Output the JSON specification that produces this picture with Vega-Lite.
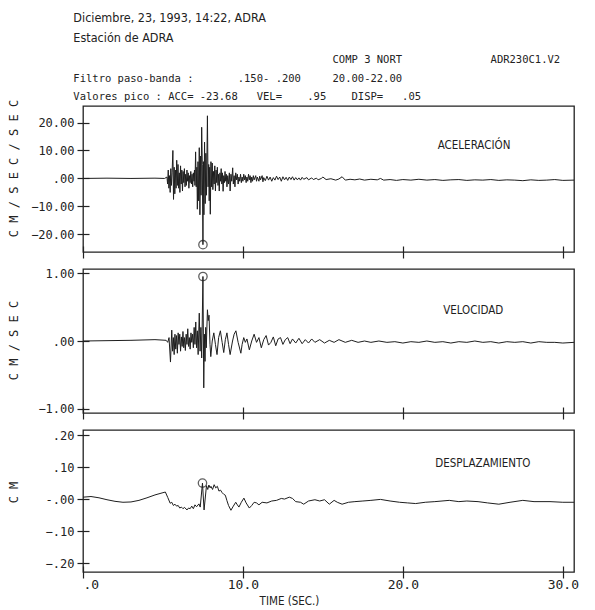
{
  "$schema": "https://vega.github.io/schema/vega-lite/v6.json",
  "background": "white",
  "padding": {"left": 6, "top": 11, "right": 5, "bottom": 0},
  "spacing": 17,
  "bounds": "flush",
  "config": {
    "view": {"stroke": "#222222", "strokeWidth": 1.3},
    "axis": {"grid": false, "domain": false, "tickColor": "#222222", "tickWidth": 1.2, "labelColor": "#222222", "titleColor": "#222222", "labelFont": "DejaVu Sans Mono", "titleFont": "DejaVu Sans Mono", "titleFontWeight": "normal", "labelOverlap": false, "labelFlush": false, "tickCount": 12}
  },
  "title": {
    "text": ["Diciembre, 23, 1993, 14:22, ADRA", "Estación de ADRA"],
    "subtitle": [
      "\u200b\u00a0\u00a0\u00a0\u00a0\u00a0\u00a0\u00a0\u00a0\u00a0\u00a0\u00a0\u00a0\u00a0\u00a0\u00a0\u00a0\u00a0\u00a0\u00a0\u00a0\u00a0\u00a0\u00a0\u00a0\u00a0\u00a0\u00a0\u00a0\u00a0\u00a0\u00a0\u00a0\u00a0\u00a0\u00a0\u00a0\u00a0\u00a0\u00a0\u00a0\u00a0COMP\u00a03\u00a0NORT\u00a0\u00a0\u00a0\u00a0\u00a0\u00a0\u00a0\u00a0\u00a0\u00a0\u00a0\u00a0\u00a0\u00a0ADR230C1.V2",
      "Filtro\u00a0paso-banda\u00a0:\u00a0\u00a0\u00a0\u00a0\u00a0\u00a0\u00a0.150-\u00a0.200\u00a0\u00a0\u00a0\u00a0\u00a020.00-22.00",
      "Valores\u00a0pico\u00a0:\u00a0ACC=\u00a0-23.68\u00a0\u00a0\u00a0VEL=\u00a0\u00a0\u00a0\u00a0.95\u00a0\u00a0\u00a0\u00a0DISP=\u00a0\u00a0\u00a0.05"
    ],
    "anchor": "start",
    "frame": "bounds",
    "dx": 67,
    "offset": -4,
    "font": "DejaVu Sans Condensed, DejaVu Sans, sans-serif",
    "fontSize": 12.5,
    "fontWeight": "normal",
    "lineHeight": 20,
    "color": "#222222",
    "subtitleFont": "DejaVu Sans Mono",
    "subtitleFontSize": 10.5,
    "subtitleLineHeight": 18.5,
    "subtitleColor": "#222222",
    "subtitlePadding": 11
  },
  "datasets": {
    "acc": [
      {"t": 0, "v": 0}, {"t": 1.5, "v": 0.1}, {"t": 3.0, "v": 0}, {"t": 4.5, "v": 0.1}, {"t": 5.1, "v": 0},
      {"t": 5.25, "v": 0.5}, {"t": 5.29, "v": -2.0}, {"t": 5.33, "v": 3.0}, {"t": 5.37, "v": -3.5}, {"t": 5.41, "v": 1.0},
      {"t": 5.45, "v": -5.0}, {"t": 5.49, "v": 3.5}, {"t": 5.53, "v": -2.5}, {"t": 5.57, "v": 2.0}, {"t": 5.62, "v": 10.0},
      {"t": 5.66, "v": -7.5}, {"t": 5.70, "v": 4.0}, {"t": 5.74, "v": -5.5}, {"t": 5.78, "v": 3.0}, {"t": 5.82, "v": -3.5},
      {"t": 5.86, "v": 6.5}, {"t": 5.90, "v": -2.5}, {"t": 5.94, "v": 5.0}, {"t": 5.98, "v": -3.5}, {"t": 6.02, "v": 2.0},
      {"t": 6.06, "v": -5.0}, {"t": 6.10, "v": 4.5}, {"t": 6.14, "v": -2.0}, {"t": 6.18, "v": 3.0}, {"t": 6.22, "v": -4.5},
      {"t": 6.26, "v": 2.5}, {"t": 6.30, "v": -1.5}, {"t": 6.34, "v": 3.5}, {"t": 6.38, "v": -3.0}, {"t": 6.42, "v": 1.5},
      {"t": 6.46, "v": -2.5}, {"t": 6.50, "v": 3.0}, {"t": 6.54, "v": -1.0}, {"t": 6.58, "v": 2.0}, {"t": 6.62, "v": -3.5},
      {"t": 6.66, "v": 1.0}, {"t": 6.70, "v": -1.5}, {"t": 6.74, "v": 2.5}, {"t": 6.78, "v": -2.0}, {"t": 6.82, "v": 1.5},
      {"t": 6.86, "v": -3.0}, {"t": 6.90, "v": 2.0}, {"t": 6.94, "v": -1.0}, {"t": 6.97, "v": 3.0}, {"t": 7.00, "v": -2.5},
      {"t": 7.04, "v": 9.5}, {"t": 7.08, "v": -3.0}, {"t": 7.12, "v": 4.0}, {"t": 7.15, "v": -11.0}, {"t": 7.19, "v": 6.0},
      {"t": 7.23, "v": -8.0}, {"t": 7.27, "v": 11.0}, {"t": 7.31, "v": -13.0}, {"t": 7.35, "v": 8.0}, {"t": 7.38, "v": -6.0},
      {"t": 7.42, "v": 18.3}, {"t": 7.46, "v": 5.0}, {"t": 7.50, "v": -23.68}, {"t": 7.53, "v": 6.0}, {"t": 7.56, "v": -13.0},
      {"t": 7.60, "v": 13.0}, {"t": 7.64, "v": -9.0}, {"t": 7.68, "v": 9.0}, {"t": 7.72, "v": -6.0}, {"t": 7.78, "v": 22.4},
      {"t": 7.82, "v": -3.0}, {"t": 7.86, "v": 5.0}, {"t": 7.89, "v": -8.0}, {"t": 7.92, "v": 4.0}, {"t": 7.96, "v": -12.8},
      {"t": 8.00, "v": 6.0}, {"t": 8.04, "v": -3.0}, {"t": 8.08, "v": 5.5}, {"t": 8.12, "v": -4.0}, {"t": 8.16, "v": 2.5},
      {"t": 8.20, "v": -2.0}, {"t": 8.24, "v": 4.5}, {"t": 8.28, "v": -4.5}, {"t": 8.32, "v": 3.0}, {"t": 8.36, "v": -1.5},
      {"t": 8.40, "v": 4.0}, {"t": 8.44, "v": -2.5}, {"t": 8.48, "v": 1.5}, {"t": 8.52, "v": -4.5}, {"t": 8.56, "v": 2.0},
      {"t": 8.60, "v": -1.0}, {"t": 8.64, "v": 3.5}, {"t": 8.68, "v": -2.0}, {"t": 8.72, "v": 2.0}, {"t": 8.76, "v": -4.6},
      {"t": 8.80, "v": 1.0}, {"t": 8.84, "v": -1.5}, {"t": 8.88, "v": 2.5}, {"t": 8.92, "v": -1.0}, {"t": 8.96, "v": 1.5},
      {"t": 9.00, "v": -3.0}, {"t": 9.05, "v": 1.0}, {"t": 9.10, "v": -2.0}, {"t": 9.15, "v": 2.0}, {"t": 9.20, "v": -4.5},
      {"t": 9.25, "v": 1.5}, {"t": 9.30, "v": -1.0}, {"t": 9.36, "v": 3.8}, {"t": 9.40, "v": -2.0}, {"t": 9.45, "v": 1.0},
      {"t": 9.50, "v": -3.0}, {"t": 9.55, "v": 2.0}, {"t": 9.60, "v": -0.5}, {"t": 9.65, "v": 1.5}, {"t": 9.70, "v": -2.0},
      {"t": 9.75, "v": 0.5}, {"t": 9.80, "v": -1.0}, {"t": 9.85, "v": 1.5}, {"t": 9.90, "v": -1.5}, {"t": 9.95, "v": 0.5},
      {"t": 10.00, "v": -1.0}, {"t": 10.05, "v": 1.5}, {"t": 10.10, "v": -0.5}, {"t": 10.15, "v": 1.0}, {"t": 10.20, "v": -1.5},
      {"t": 10.25, "v": 0.5}, {"t": 10.30, "v": -1.0}, {"t": 10.35, "v": 1.5}, {"t": 10.40, "v": -0.5}, {"t": 10.45, "v": 1.0},
      {"t": 10.50, "v": -1.5}, {"t": 10.55, "v": 0.5}, {"t": 10.60, "v": -1.0}, {"t": 10.65, "v": 1.0}, {"t": 10.70, "v": -0.5},
      {"t": 10.80, "v": 1.0}, {"t": 10.85, "v": -1.0}, {"t": 10.90, "v": 0.5}, {"t": 11.00, "v": -1.0}, {"t": 11.05, "v": 0.8},
      {"t": 11.10, "v": -0.5}, {"t": 11.20, "v": 1.0}, {"t": 11.25, "v": -1.2}, {"t": 11.30, "v": 0.3}, {"t": 11.40, "v": -0.8},
      {"t": 11.50, "v": 0.8}, {"t": 11.60, "v": -0.6}, {"t": 11.70, "v": 0.5}, {"t": 11.80, "v": -1.0}, {"t": 11.90, "v": 0.3},
      {"t": 12.00, "v": -0.6}, {"t": 12.10, "v": 0.8}, {"t": 12.20, "v": -0.4}, {"t": 12.30, "v": 0.5}, {"t": 12.40, "v": -1.0},
      {"t": 12.50, "v": 0.6}, {"t": 12.60, "v": -0.5}, {"t": 12.70, "v": 0.4}, {"t": 12.80, "v": -0.7}, {"t": 12.90, "v": 0.5},
      {"t": 13.00, "v": -0.4}, {"t": 13.10, "v": 0.6}, {"t": 13.20, "v": -0.6}, {"t": 13.30, "v": 0.3}, {"t": 13.40, "v": -0.5},
      {"t": 13.50, "v": 0.2}, {"t": 13.60, "v": -0.6}, {"t": 13.70, "v": 0.4}, {"t": 13.80, "v": -0.3}, {"t": 14.00, "v": 0.3},
      {"t": 14.10, "v": -0.5}, {"t": 14.30, "v": 0.2}, {"t": 14.40, "v": -0.4}, {"t": 14.60, "v": 0.1}, {"t": 14.70, "v": -0.5},
      {"t": 14.90, "v": 0.0}, {"t": 15.00, "v": 0.5}, {"t": 15.20, "v": -0.4}, {"t": 15.50, "v": -0.1}, {"t": 15.80, "v": -0.6},
      {"t": 16.00, "v": -0.2}, {"t": 16.20, "v": 0.6}, {"t": 16.40, "v": -0.6}, {"t": 16.70, "v": -0.3}, {"t": 17.00, "v": -0.5},
      {"t": 17.30, "v": -0.2}, {"t": 17.60, "v": -0.6}, {"t": 18.00, "v": -0.3}, {"t": 18.40, "v": -0.5}, {"t": 18.60, "v": 0.0},
      {"t": 18.80, "v": -0.6}, {"t": 19.20, "v": -0.4}, {"t": 19.60, "v": -0.7}, {"t": 20.00, "v": -0.4}, {"t": 20.50, "v": -0.6},
      {"t": 21.00, "v": -0.3}, {"t": 21.50, "v": -0.6}, {"t": 22.00, "v": -0.4}, {"t": 22.50, "v": -0.7}, {"t": 23.00, "v": -0.5},
      {"t": 23.50, "v": -0.4}, {"t": 24.00, "v": -0.7}, {"t": 24.50, "v": -0.5}, {"t": 25.00, "v": -0.6}, {"t": 25.50, "v": -0.4},
      {"t": 26.00, "v": -0.7}, {"t": 26.50, "v": -0.5}, {"t": 27.00, "v": -0.6}, {"t": 27.50, "v": -0.8}, {"t": 28.00, "v": -0.5},
      {"t": 28.50, "v": -0.7}, {"t": 29.00, "v": -0.6}, {"t": 29.50, "v": -0.4}, {"t": 30.00, "v": -0.7}, {"t": 30.70, "v": -0.6}
    ],
    "vel": [
      {"t": 0, "v": 0.0}, {"t": 3.0, "v": 0.01}, {"t": 4.5, "v": 0.02}, {"t": 5.2, "v": 0.01}, {"t": 5.3, "v": -0.02},
      {"t": 5.38, "v": 0.05}, {"t": 5.47, "v": -0.31}, {"t": 5.55, "v": 0.16}, {"t": 5.6, "v": -0.15}, {"t": 5.65, "v": 0.05},
      {"t": 5.7, "v": -0.2}, {"t": 5.75, "v": 0.1}, {"t": 5.8, "v": -0.12}, {"t": 5.85, "v": 0.08}, {"t": 5.9, "v": -0.18},
      {"t": 5.95, "v": 0.12}, {"t": 6.0, "v": -0.05}, {"t": 6.05, "v": 0.1}, {"t": 6.1, "v": -0.15}, {"t": 6.15, "v": 0.06},
      {"t": 6.2, "v": -0.08}, {"t": 6.25, "v": 0.14}, {"t": 6.3, "v": -0.1}, {"t": 6.35, "v": 0.05}, {"t": 6.4, "v": -0.14},
      {"t": 6.45, "v": 0.1}, {"t": 6.5, "v": -0.05}, {"t": 6.55, "v": 0.18}, {"t": 6.6, "v": -0.08}, {"t": 6.65, "v": 0.05},
      {"t": 6.7, "v": -0.12}, {"t": 6.75, "v": 0.12}, {"t": 6.8, "v": -0.02}, {"t": 6.85, "v": 0.1}, {"t": 6.9, "v": -0.1},
      {"t": 6.95, "v": 0.2}, {"t": 7.0, "v": -0.05}, {"t": 7.05, "v": 0.28}, {"t": 7.1, "v": -0.1}, {"t": 7.15, "v": 0.15},
      {"t": 7.2, "v": -0.2}, {"t": 7.27, "v": 0.41}, {"t": 7.32, "v": -0.15}, {"t": 7.37, "v": 0.2}, {"t": 7.42, "v": -0.25},
      {"t": 7.5, "v": 0.95}, {"t": 7.55, "v": -0.69}, {"t": 7.59, "v": 0.1}, {"t": 7.63, "v": -0.3}, {"t": 7.67, "v": 0.2},
      {"t": 7.71, "v": -0.1}, {"t": 7.78, "v": 0.46}, {"t": 7.83, "v": 0.3}, {"t": 7.88, "v": 0.38}, {"t": 7.94, "v": -0.05},
      {"t": 7.99, "v": -0.23}, {"t": 8.08, "v": 0.0}, {"t": 8.18, "v": 0.12}, {"t": 8.28, "v": -0.05}, {"t": 8.38, "v": -0.2},
      {"t": 8.48, "v": 0.05}, {"t": 8.59, "v": 0.15}, {"t": 8.7, "v": -0.02}, {"t": 8.8, "v": -0.17}, {"t": 8.9, "v": 0.02},
      {"t": 9.0, "v": 0.12}, {"t": 9.1, "v": -0.05}, {"t": 9.2, "v": -0.2}, {"t": 9.35, "v": 0.0}, {"t": 9.45, "v": 0.1},
      {"t": 9.56, "v": 0.15}, {"t": 9.7, "v": -0.02}, {"t": 9.87, "v": -0.18}, {"t": 9.95, "v": -0.05}, {"t": 10.05, "v": 0.05},
      {"t": 10.15, "v": -0.02}, {"t": 10.25, "v": 0.03}, {"t": 10.4, "v": -0.13}, {"t": 10.55, "v": 0.0}, {"t": 10.7, "v": 0.1},
      {"t": 10.85, "v": -0.02}, {"t": 11.0, "v": 0.05}, {"t": 11.15, "v": -0.1}, {"t": 11.3, "v": 0.02}, {"t": 11.45, "v": 0.08},
      {"t": 11.6, "v": -0.06}, {"t": 11.75, "v": -0.02}, {"t": 11.9, "v": 0.06}, {"t": 12.05, "v": -0.07}, {"t": 12.2, "v": 0.03},
      {"t": 12.35, "v": 0.05}, {"t": 12.5, "v": -0.05}, {"t": 12.65, "v": 0.02}, {"t": 12.8, "v": 0.05}, {"t": 12.95, "v": -0.04},
      {"t": 13.1, "v": 0.03}, {"t": 13.3, "v": -0.03}, {"t": 13.5, "v": 0.04}, {"t": 13.7, "v": -0.04}, {"t": 13.9, "v": 0.02},
      {"t": 14.1, "v": -0.03}, {"t": 14.3, "v": 0.03}, {"t": 14.5, "v": -0.02}, {"t": 14.8, "v": 0.02}, {"t": 15.1, "v": -0.03},
      {"t": 15.4, "v": 0.01}, {"t": 15.7, "v": -0.02}, {"t": 16.0, "v": 0.02}, {"t": 16.4, "v": -0.02}, {"t": 16.8, "v": 0.01},
      {"t": 17.2, "v": -0.02}, {"t": 17.6, "v": 0.0}, {"t": 18.0, "v": -0.02}, {"t": 18.5, "v": 0.0}, {"t": 19.0, "v": -0.02},
      {"t": 19.5, "v": -0.01}, {"t": 20.0, "v": -0.03}, {"t": 20.5, "v": -0.01}, {"t": 21.0, "v": -0.02}, {"t": 21.5, "v": 0.0},
      {"t": 22.0, "v": -0.02}, {"t": 22.5, "v": -0.01}, {"t": 23.0, "v": -0.03}, {"t": 23.5, "v": -0.01}, {"t": 24.0, "v": -0.02},
      {"t": 24.5, "v": 0.0}, {"t": 25.0, "v": -0.02}, {"t": 25.5, "v": -0.01}, {"t": 26.0, "v": -0.03}, {"t": 26.5, "v": -0.01},
      {"t": 27.0, "v": -0.02}, {"t": 27.5, "v": -0.01}, {"t": 28.0, "v": -0.03}, {"t": 28.5, "v": -0.01}, {"t": 29.0, "v": -0.02},
      {"t": 29.5, "v": -0.02}, {"t": 30.0, "v": -0.03}, {"t": 30.7, "v": -0.02}
    ],
    "disp": [
      {"t": 0, "v": 0.006}, {"t": 0.5, "v": 0.008}, {"t": 1.0, "v": 0.004}, {"t": 1.5, "v": -0.002}, {"t": 2.0, "v": -0.007},
      {"t": 2.5, "v": -0.01}, {"t": 3.0, "v": -0.009}, {"t": 3.5, "v": -0.004}, {"t": 4.0, "v": 0.004}, {"t": 4.5, "v": 0.013},
      {"t": 5.0, "v": 0.02}, {"t": 5.15, "v": 0.022}, {"t": 5.3, "v": 0.005}, {"t": 5.45, "v": -0.013}, {"t": 5.55, "v": -0.01},
      {"t": 5.65, "v": -0.02}, {"t": 5.75, "v": -0.016}, {"t": 5.85, "v": -0.022}, {"t": 5.95, "v": -0.02}, {"t": 6.05, "v": -0.028},
      {"t": 6.15, "v": -0.025}, {"t": 6.25, "v": -0.03}, {"t": 6.35, "v": -0.026}, {"t": 6.5, "v": -0.034}, {"t": 6.6, "v": -0.028},
      {"t": 6.7, "v": -0.03}, {"t": 6.8, "v": -0.022}, {"t": 6.9, "v": -0.03}, {"t": 7.0, "v": -0.018}, {"t": 7.1, "v": -0.024},
      {"t": 7.25, "v": -0.015}, {"t": 7.33, "v": -0.025}, {"t": 7.47, "v": 0.05}, {"t": 7.57, "v": -0.034}, {"t": 7.72, "v": 0.042},
      {"t": 7.8, "v": 0.03}, {"t": 7.87, "v": 0.044}, {"t": 7.95, "v": 0.035}, {"t": 8.0, "v": 0.04}, {"t": 8.1, "v": 0.03},
      {"t": 8.2, "v": 0.045}, {"t": 8.3, "v": 0.035}, {"t": 8.4, "v": 0.04}, {"t": 8.5, "v": 0.025}, {"t": 8.6, "v": 0.028},
      {"t": 8.7, "v": 0.02}, {"t": 8.8, "v": 0.015}, {"t": 8.9, "v": 0.012}, {"t": 9.0, "v": -0.005}, {"t": 9.1, "v": -0.02},
      {"t": 9.25, "v": -0.035}, {"t": 9.4, "v": -0.022}, {"t": 9.55, "v": -0.01}, {"t": 9.65, "v": -0.018}, {"t": 9.75, "v": -0.025},
      {"t": 9.9, "v": -0.01}, {"t": 10.06, "v": 0.003}, {"t": 10.2, "v": -0.012}, {"t": 10.4, "v": -0.028}, {"t": 10.55, "v": -0.02},
      {"t": 10.7, "v": -0.01}, {"t": 10.85, "v": -0.012}, {"t": 11.0, "v": -0.018}, {"t": 11.2, "v": -0.01}, {"t": 11.5, "v": -0.012},
      {"t": 11.8, "v": -0.006}, {"t": 12.1, "v": -0.004}, {"t": 12.4, "v": 0.002}, {"t": 12.6, "v": 0.0}, {"t": 12.9, "v": 0.006},
      {"t": 13.1, "v": 0.002}, {"t": 13.3, "v": -0.008}, {"t": 13.6, "v": -0.01}, {"t": 13.8, "v": -0.016}, {"t": 14.1, "v": -0.006},
      {"t": 14.5, "v": -0.002}, {"t": 14.8, "v": -0.006}, {"t": 15.1, "v": -0.002}, {"t": 15.4, "v": -0.016}, {"t": 15.7, "v": -0.004},
      {"t": 15.9, "v": -0.01}, {"t": 16.2, "v": -0.016}, {"t": 16.6, "v": -0.01}, {"t": 17.0, "v": -0.008}, {"t": 17.5, "v": -0.006},
      {"t": 18.0, "v": -0.004}, {"t": 18.6, "v": -0.001}, {"t": 19.2, "v": -0.006}, {"t": 19.8, "v": -0.01}, {"t": 20.3, "v": -0.012},
      {"t": 20.8, "v": -0.014}, {"t": 21.4, "v": -0.01}, {"t": 22.0, "v": -0.008}, {"t": 22.9, "v": -0.004}, {"t": 23.5, "v": -0.008},
      {"t": 24.0, "v": -0.006}, {"t": 24.7, "v": -0.008}, {"t": 25.3, "v": -0.012}, {"t": 26.0, "v": -0.016}, {"t": 26.7, "v": -0.01},
      {"t": 27.5, "v": -0.004}, {"t": 28.2, "v": -0.008}, {"t": 29.2, "v": -0.008}, {"t": 30.0, "v": -0.01}, {"t": 30.7, "v": -0.01}
    ],
    "peaks": [
      {"panel": "acc", "t": 7.5, "v": -23.68},
      {"panel": "vel", "t": 7.5, "v": 0.95},
      {"panel": "disp", "t": 7.47, "v": 0.05}
    ]
  },
  "vconcat": [
    {
      "width": 491,
      "height": 146,
      "layer": [
        {
          "data": {"name": "acc"},
          "mark": {"type": "line", "color": "#1e1e1e", "strokeWidth": 1, "clip": true},
          "encoding": {
            "x": {"field": "t", "type": "quantitative", "scale": {"domain": [0, 30.7], "nice": false, "zero": false},
                  "axis": {"values": [0, 10, 20, 30], "tickCount": 12, "labels": false, "title": null, "tickSize": 12, "offset": -6}},
            "y": {"field": "v", "type": "quantitative", "scale": {"domain": [-26.3, 25.9], "nice": false, "zero": false},
                  "axis": {"values": [-20, -10, 0, 10, 20], "tickCount": 12, "tickSize": 12, "offset": -6, "labelPadding": 3, "labelFontSize": 12,
                           "labelExpr": "datum.value == 0 ? '.00' : format(datum.value, '.2f')",
                           "title": "C M / S E C / S E C", "titleFontSize": 12, "titleAngle": -90, "titleX": -76, "titleY": 62, "titleBaseline": "middle", "titleAlign": "center"}}
          }
        },
        {
          "data": {"name": "peaks"},
          "transform": [{"filter": "datum.panel == 'acc'"}],
          "mark": {"type": "point", "shape": "circle", "filled": false, "size": 70, "color": "#1e1e1e", "strokeWidth": 1.3},
          "encoding": {"x": {"field": "t", "type": "quantitative"}, "y": {"field": "v", "type": "quantitative"}}
        },
        {
          "data": {"values": [{"name": "ACELERACIÓN"}]},
          "mark": {"type": "text", "font": "DejaVu Sans Condensed, DejaVu Sans, sans-serif", "fontSize": 11.5, "color": "#1e1e1e", "align": "center", "baseline": "middle"},
          "encoding": {"x": {"datum": 24.45, "type": "quantitative"}, "y": {"datum": 11.6, "type": "quantitative"}, "text": {"field": "name"}}
        }
      ]
    },
    {
      "width": 491,
      "height": 144,
      "layer": [
        {
          "data": {"name": "vel"},
          "mark": {"type": "line", "color": "#1e1e1e", "strokeWidth": 1, "clip": true},
          "encoding": {
            "x": {"field": "t", "type": "quantitative", "scale": {"domain": [0, 30.7], "nice": false, "zero": false},
                  "axis": {"values": [0, 10, 20, 30], "tickCount": 12, "labels": false, "title": null, "tickSize": 12, "offset": -6}},
            "y": {"field": "v", "type": "quantitative", "scale": {"domain": [-1.06, 1.06], "nice": false, "zero": false},
                  "axis": {"values": [-1, 0, 1], "tickCount": 12, "tickSize": 12, "offset": -6, "labelPadding": 3, "labelFontSize": 12,
                           "labelExpr": "datum.value == 0 ? '.00' : format(datum.value, '.2f')",
                           "title": "C M / S E C", "titleFontSize": 12, "titleAngle": -90, "titleX": -76, "titleY": 71, "titleBaseline": "middle", "titleAlign": "center"}}
          }
        },
        {
          "data": {"name": "peaks"},
          "transform": [{"filter": "datum.panel == 'vel'"}],
          "mark": {"type": "point", "shape": "circle", "filled": false, "size": 70, "color": "#1e1e1e", "strokeWidth": 1.3},
          "encoding": {"x": {"field": "t", "type": "quantitative"}, "y": {"field": "v", "type": "quantitative"}}
        },
        {
          "data": {"values": [{"name": "VELOCIDAD"}]},
          "mark": {"type": "text", "font": "DejaVu Sans Condensed, DejaVu Sans, sans-serif", "fontSize": 11.5, "color": "#1e1e1e", "align": "center", "baseline": "middle"},
          "encoding": {"x": {"datum": 24.4, "type": "quantitative"}, "y": {"datum": 0.44, "type": "quantitative"}, "text": {"field": "name"}}
        }
      ]
    },
    {
      "width": 491,
      "height": 142,
      "layer": [
        {
          "data": {"name": "disp"},
          "mark": {"type": "line", "color": "#1e1e1e", "strokeWidth": 1, "clip": true},
          "encoding": {
            "x": {"field": "t", "type": "quantitative", "scale": {"domain": [0, 30.7], "nice": false, "zero": false},
                  "axis": {"values": [0, 10, 20, 30], "tickCount": 12, "tickSize": 12, "offset": -6, "labelPadding": 0, "labelFontSize": 13,
                           "labelExpr": "datum.value == 0 ? '\u200b\u00a0\u00a0.0' : format(datum.value, '.1f')",
                           "title": "TIME (SEC.)", "titleFont": "DejaVu Sans Condensed, DejaVu Sans, sans-serif", "titleFontSize": 11.5,
                           "titleX": 206, "titleY": 35, "titleBaseline": "middle", "titleAlign": "center"}},
            "y": {"field": "v", "type": "quantitative", "scale": {"domain": [-0.228, 0.216], "nice": false, "zero": false},
                  "axis": {"values": [-0.2, -0.1, 0, 0.1, 0.2], "tickCount": 12, "tickSize": 12, "offset": -6, "labelPadding": 3, "labelFontSize": 12,
                           "labelExpr": "datum.value == 0 ? '-.00' : replace(format(datum.value, '.2f'), '0.', '.')",
                           "title": "C M", "titleFontSize": 12, "titleAngle": -90, "titleX": -76, "titleY": 62, "titleBaseline": "middle", "titleAlign": "center"}}
          }
        },
        {
          "data": {"name": "peaks"},
          "transform": [{"filter": "datum.panel == 'disp'"}],
          "mark": {"type": "point", "shape": "circle", "filled": false, "size": 70, "color": "#1e1e1e", "strokeWidth": 1.3},
          "encoding": {"x": {"field": "t", "type": "quantitative"}, "y": {"field": "v", "type": "quantitative"}}
        },
        {
          "data": {"values": [{"name": "DESPLAZAMIENTO"}]},
          "mark": {"type": "text", "font": "DejaVu Sans Condensed, DejaVu Sans, sans-serif", "fontSize": 11.5, "color": "#1e1e1e", "align": "center", "baseline": "middle"},
          "encoding": {"x": {"datum": 25.0, "type": "quantitative"}, "y": {"datum": 0.109, "type": "quantitative"}, "text": {"field": "name"}}
        }
      ]
    }
  ]
}
